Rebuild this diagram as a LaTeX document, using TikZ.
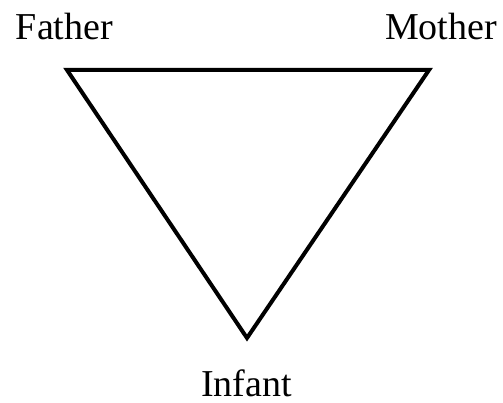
\documentclass[tikz,border=0pt]{standalone}
\usepackage{fontspec}
\setmainfont{Liberation Serif}
\begin{document}
\begin{tikzpicture}[x=1pt,y=-1pt,
  lbl/.style={inner sep=0pt,outer sep=0pt,font=\fontsize{38}{40}\selectfont},
  edge/.style={line width=4pt,line join=miter}]
\useasboundingbox (0,0) rectangle (503,403);
\coordinate (tl) at (67,70);
\coordinate (tr) at (429,70);
\coordinate (bt) at (247,338);
\draw[edge] (tl) -- (tr) -- (bt) -- cycle;
\node[lbl,anchor=base west] (father) at (16,40) {Father};
\node[lbl,anchor=base east] (mother) at (497,40) {Mother};
\node[lbl,anchor=base] (infant) at (246.5,396) {Infant};
\end{tikzpicture}
\end{document}
